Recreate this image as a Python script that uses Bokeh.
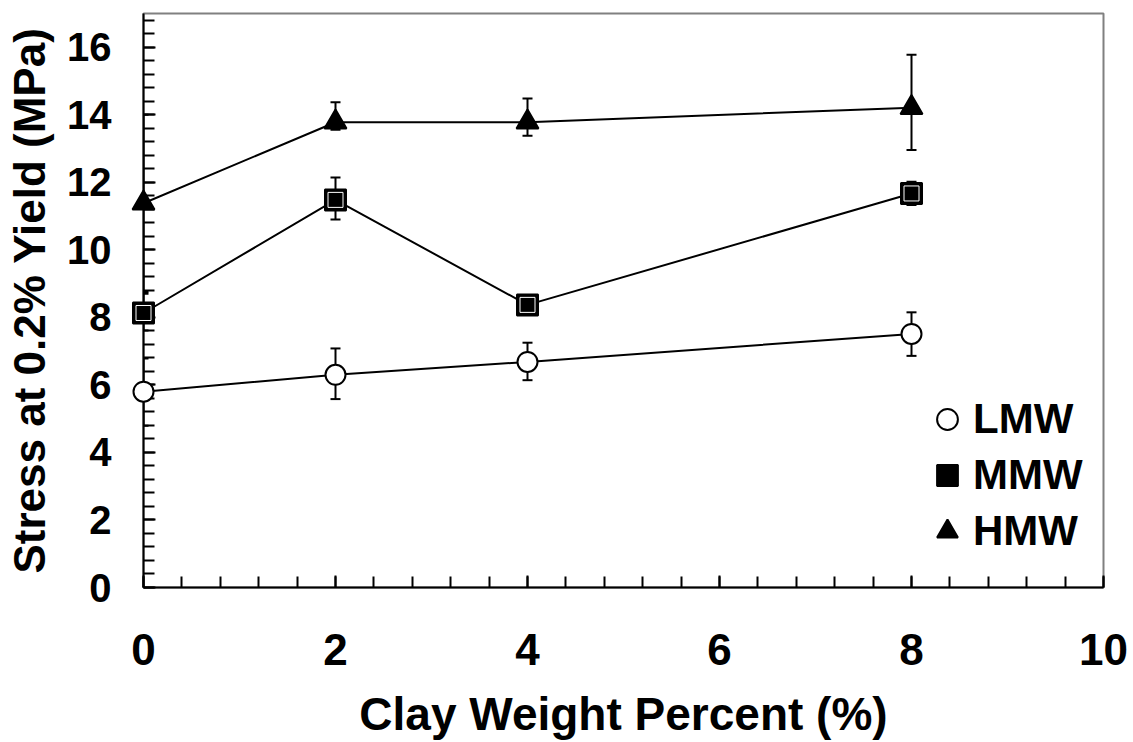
from bokeh.plotting import figure
from bokeh.models import Range1d, SingleIntervalTicker, Whisker, ColumnDataSource, Legend, LegendItem, TeeHead
from bokeh.embed import file_html
from bokeh.resources import INLINE

clay = [0, 2, 4, 8]
lmw = [5.80, 6.30, 6.68, 7.51]
lmw_lo = [4.79, 5.58, 6.14, 6.86]
lmw_hi = [6.78, 7.08, 7.25, 8.15]
mmw = [8.13, 11.48, 8.37, 11.67]
mmw_lo = [7.61, 10.90, 8.20, 11.33]
mmw_hi = [8.70, 12.14, 8.55, 12.02]
hmw = [11.38, 13.78, 13.78, 14.21]
hmw_lo = [8.75, 13.56, 13.38, 12.96]
hmw_hi = [14.00, 14.37, 14.48, 15.78]
labels = ["LMW", "MMW", "HMW"]

FONT = "Liberation Sans"

p = figure(width=1133, height=742, x_range=Range1d(0, 10), y_range=Range1d(0, 17),
           output_backend="svg", toolbar_location=None,
           min_border_left=143, min_border_right=30, min_border_top=13, min_border_bottom=152)
p.grid.visible = False
p.outline_line_color = "#808080"
p.outline_line_width = 2
p.background_fill_color = "white"
p.border_fill_color = "white"

for ax, tick_font in ((p.xaxis[0], "44px"), (p.yaxis[0], "40px")):
    ax.ticker = SingleIntervalTicker(interval=2, num_minor_ticks=5)
    ax.axis_line_color = "black"
    ax.axis_line_width = 2
    ax.major_tick_in = 12
    ax.major_tick_out = 0
    ax.minor_tick_in = 11
    ax.minor_tick_out = 0
    ax.major_tick_line_width = 2
    ax.minor_tick_line_width = 2
    ax.major_tick_line_color = "black"
    ax.minor_tick_line_color = "black"
    ax.major_label_text_font = FONT
    ax.major_label_text_font_style = "bold"
    ax.major_label_text_font_size = tick_font
    ax.major_label_text_color = "black"
    ax.axis_label_text_font = FONT
    ax.axis_label_text_font_style = "bold"
    ax.axis_label_text_color = "black"

p.xaxis.axis_label = "Clay Weight Percent (%)"
p.yaxis.axis_label = "Stress at 0.2% Yield (MPa)"
p.xaxis.axis_label_text_font_size = "46px"
p.yaxis.axis_label_text_font_size = "44px"
p.xaxis.major_label_standoff = 46
p.xaxis.axis_label_standoff = 20
p.yaxis.major_label_standoff = 32
p.yaxis.axis_label_standoff = 10

renderers = []
series = [(lmw, lmw_lo, lmw_hi, "circle", "white"),
          (mmw, mmw_lo, mmw_hi, "square", "black"),
          (hmw, hmw_lo, hmw_hi, "triangle", "black")]
for (vals, lo, hi, marker, fill), lab in zip(series, labels):
    src = ColumnDataSource(dict(x=clay, y=vals, lo=lo, hi=hi))
    p.line("x", "y", source=src, line_color="black", line_width=2)
    w = Whisker(base="x", lower="lo", upper="hi", source=src, dimension="height",
                line_color="black", line_width=2,
                upper_head=TeeHead(size=10, line_width=2, line_color="black"),
                lower_head=TeeHead(size=10, line_width=2, line_color="black"))
    p.add_layout(w)
sizes = {"circle": 20, "square": 21, "triangle": 22}
for (vals, lo, hi, marker, fill), lab in zip(series, labels):
    src = ColumnDataSource(dict(x=clay, y=vals))
    r = p.scatter("x", "y", source=src, marker=marker, size=sizes[marker], fill_color=fill,
                  line_color="black", line_width=2, level="overlay")
    if marker == "square":
        p.scatter("x", "y", source=src, marker="square", size=15, fill_color=None,
                  line_color="white", line_width=1, level="overlay")
    renderers.append(r)

legend = Legend(items=[LegendItem(label=l, renderers=[r]) for l, r in zip(labels, renderers)],
                location=(778, 28), orientation="vertical",
                glyph_width=52, glyph_height=56, label_standoff=0, spacing=0,
                padding=0, margin=0, border_line_color=None, background_fill_color=None,
                label_text_font=FONT, label_text_font_style="bold",
                label_text_font_size="42px", label_text_color="black")
p.add_layout(legend)

open("out.html", "w").write(file_html(p, INLINE))
